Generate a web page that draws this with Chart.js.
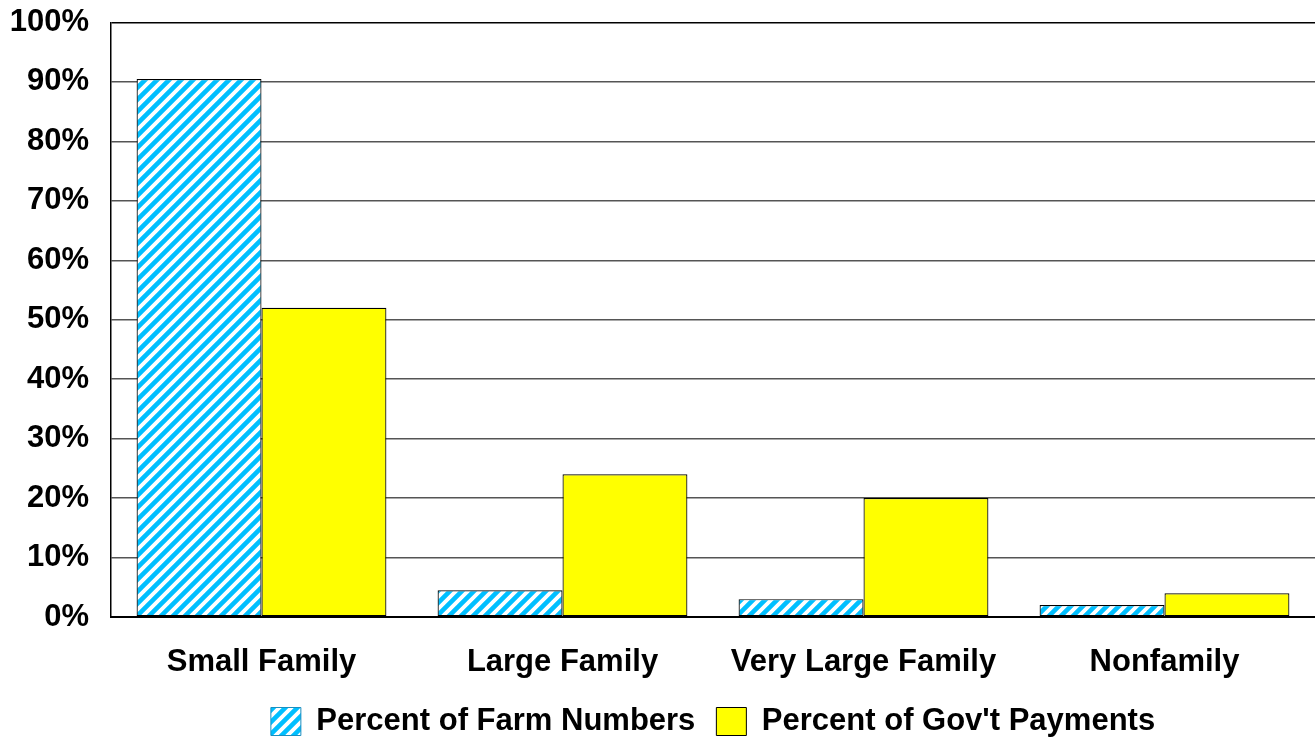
<!DOCTYPE html>
<html>
<head>
<meta charset="utf-8">
<script src="https://cdn.jsdelivr.net/npm/chart.js@4.4.0/dist/chart.umd.min.js"></script>
<style>
  html, body { margin: 0; padding: 0; background: #fff; overflow: hidden; }
  body { position: relative; width: 1315px; height: 742px; }
  #wrap { position: absolute; left: 0; top: -15px; width: 1315px; height: 757px; }
</style>
</head>
<body>
<div id="wrap"><canvas id="myChart"></canvas></div>
<script>
var categories = ["Small Family", "Large Family", "Very Large Family", "Nonfamily"];
var farmNumbers = [90.5, 4.5, 3, 2];
var govPayments = [52, 24, 20, 4];
var yTicks = [0, 10, 20, 30, 40, 50, 60, 70, 80, 90, 100];

// diagonal hatch for the farm numbers bars
function makeHatch() {
  var c = document.createElement("canvas");
  c.width = 12;
  c.height = 12;
  var g = c.getContext("2d");
  g.fillStyle = "#fff";
  g.fillRect(0, 0, 12, 12);
  g.strokeStyle = "#00BFFF";
  g.lineWidth = 4.6;
  g.beginPath();
  g.moveTo(-3, 15); g.lineTo(15, -3);
  g.moveTo(-9, 9); g.lineTo(9, -9);
  g.moveTo(3, 21); g.lineTo(21, 3);
  g.stroke();
  return g.createPattern(c, "repeat");
}

var hatch = makeHatch();
var ctx = document.getElementById("myChart");
var font = { family: "'Liberation Sans', Arial, sans-serif", size: 31, weight: "bold", lineHeight: 1 };

var myChart = new Chart(ctx, {
  type: "bar",
  data: {
    labels: categories,
    datasets: [{
      label: "Percent of Farm Numbers",
      data: farmNumbers,
      backgroundColor: hatch,
      borderColor: "#000",
      borderWidth: 1.2,
      borderSkipped: false
    }, {
      label: "Percent of Gov't Payments",
      data: govPayments,
      backgroundColor: "#FFFF00",
      borderColor: "#000",
      borderWidth: 1.2,
      borderSkipped: false
    }]
  },
  options: {
    responsive: true,
    maintainAspectRatio: false,
    animation: false,
    layout: { autoPadding: false, padding: { top: 22, right: 0, left: 0, bottom: -5 } },
    datasets: { bar: { categoryPercentage: 0.83, barPercentage: 1.0 } },
    plugins: {
      tooltip: { enabled: false },
      legend: {
        position: "bottom",
        fullSize: false,
        labels: {
          color: "#000",
          font: font,
          boxWidth: 30,
          boxHeight: 28,
          padding: 21,
          generateLabels: function(chart) {
            var items = Chart.defaults.plugins.legend.labels.generateLabels(chart);
            items[0].strokeStyle = "#1a8fc0";
            items[0].lineWidth = 1;
            items[1].strokeStyle = "#000";
            items[1].lineWidth = 1;
            return items;
          }
        }
      }
    },
    scales: {
      x: {
        afterFit: function(axis) { axis.height = 68; },
        grid: { display: false, drawTicks: false },
        border: { color: "#000", width: 2 },
        ticks: { color: "#000", font: font, padding: 29.5 }
      },
      y: {
        min: 0,
        max: 100,
        afterBuildTicks: function(axis) {
          axis.ticks = yTicks.map(function(v) { return { value: v }; });
        },
        afterFit: function(axis) { axis.width = 111; },
        grid: {
          drawTicks: false,
          color: function(c) { return c.tick && c.tick.value === 100 ? "#000" : "#555"; },
          lineWidth: 1.5
        },
        border: { color: "#000", width: 1.5 },
        ticks: {
          color: "#000",
          font: font,
          padding: 22,
          callback: function(v) { return v + "%"; }
        }
      }
    }
  }
});
</script>
</body>
</html>
